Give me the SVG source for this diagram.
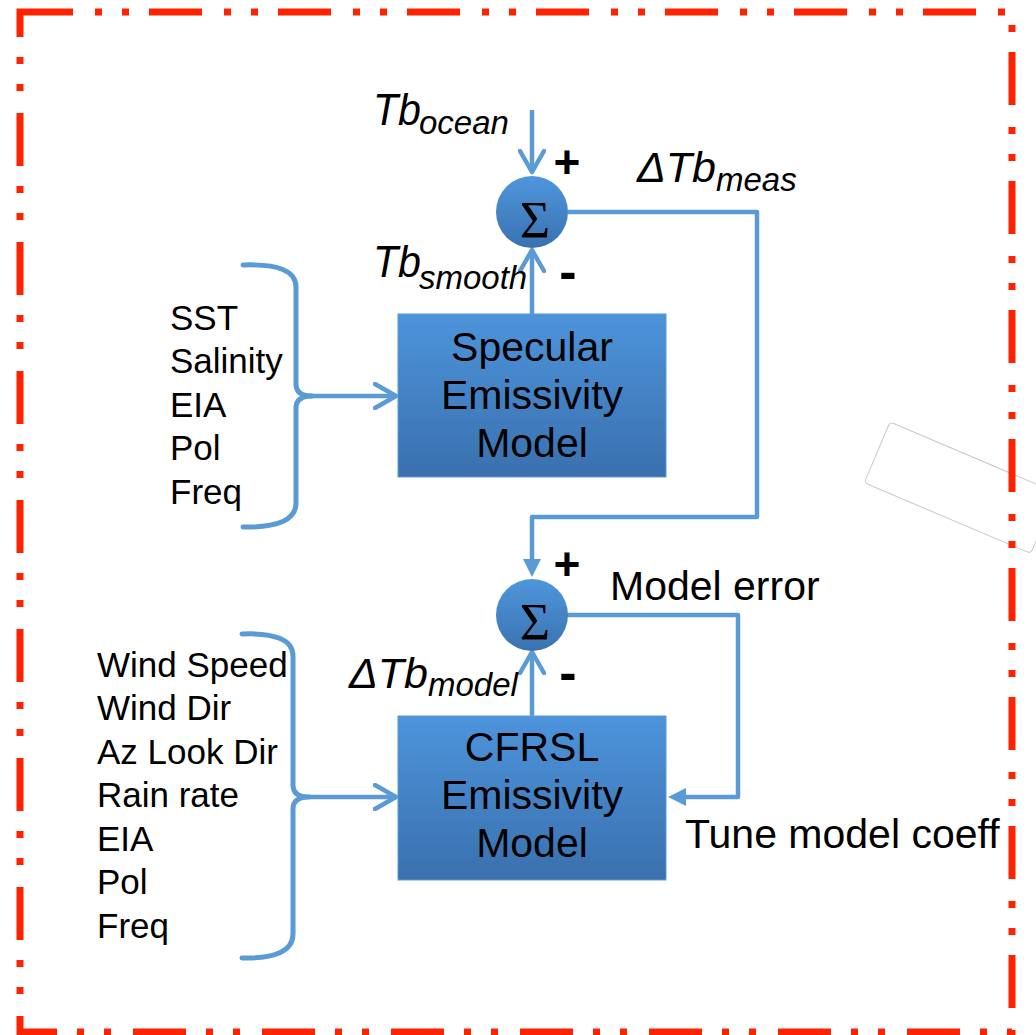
<svg xmlns="http://www.w3.org/2000/svg" width="1036" height="1035" viewBox="0 0 1036 1035">
<style>
.t{font-family:"Liberation Sans",Arial,sans-serif;fill:#000}
.box{font-size:41px;text-anchor:middle}
.lst{font-size:35px}
.lab{font-size:41px}
.it{font-style:italic}
.big{font-size:45px}
.mid{font-size:43px}
.sub{font-size:33px}
.sig{font-family:"Liberation Serif","Times New Roman",serif;font-size:52px;text-anchor:middle;fill:#000}
.sign{font-family:"Liberation Sans",Arial,sans-serif;font-weight:bold;text-anchor:middle;fill:#000}
.con{fill:none;stroke:#5b9bd5;stroke-width:4.5;stroke-linejoin:round}
.brace{fill:none;stroke:#5b9bd5;stroke-width:5;stroke-linecap:round;stroke-linejoin:round}
</style>
<defs>
<linearGradient id="gBox" x1="0" y1="0" x2="0" y2="1">
<stop offset="0" stop-color="#4d94db"/>
<stop offset="1" stop-color="#3a70ae"/>
</linearGradient>
<linearGradient id="gSum" x1="0" y1="0" x2="0" y2="1">
<stop offset="0" stop-color="#4f96dc"/>
<stop offset="1" stop-color="#3a72b0"/>
</linearGradient>
<marker id="vhead" viewBox="0 0 26 28" refX="23" refY="14" markerWidth="26" markerHeight="28" markerUnits="userSpaceOnUse" orient="auto">
<path d="M2,2 L23,14 L2,26" fill="none" stroke="#5b9bd5" stroke-width="4.5" stroke-linecap="round" stroke-linejoin="round"/>
</marker>
<marker id="tri" viewBox="0 0 18 20" refX="1" refY="10" markerWidth="18" markerHeight="20" markerUnits="userSpaceOnUse" orient="auto">
<path d="M0,1 L18,10 L0,19 Z" fill="#5b9bd5"/>
</marker>
</defs>

<rect x="0" y="0" width="1036" height="1035" fill="#ffffff"/>

<g id="overlay-rect">
<rect transform="translate(890,422) rotate(23)" x="0" y="0" width="181" height="66" rx="4" fill="#ffffff" stroke="#c8c8c8" stroke-width="1"/>
</g>

<g id="frame">
<path d="M20,12 H1012 V1032 H20 Z" fill="none" stroke="#ff2200" stroke-width="7" stroke-dasharray="53 22 7 20 7 20"/>
</g>

<g id="connectors">
<path class="con" d="M532,110 V172" marker-end="url(#vhead)"/>
<path class="con" d="M532,314 V250" marker-end="url(#vhead)"/>
<path class="con" d="M568,212 H757 V517 H532 V560" marker-end="url(#tri)"/>
<path class="con" d="M532,716 V652" marker-end="url(#vhead)"/>
<path class="con" d="M567,615 H738 V797 H685" marker-end="url(#tri)"/>
<path class="con" d="M310,396 H396" marker-end="url(#vhead)"/>
<path class="con" d="M309,797 H396" marker-end="url(#vhead)"/>
</g>

<g id="sum1">
<circle cx="532" cy="212" r="36" fill="url(#gSum)"/>
<text class="sig" x="535" y="238">Σ</text>
</g>

<g id="sum2">
<circle cx="532" cy="615" r="36" fill="url(#gSum)"/>
<text class="sig" x="535" y="640">Σ</text>
</g>

<g id="box1">
<rect x="398" y="314" width="268" height="163" fill="url(#gBox)" stroke="#5a9ad9" stroke-width="1"/>
<text class="t box" x="532" y="361">Specular</text>
<text class="t box" x="532" y="409">Emissivity</text>
<text class="t box" x="532" y="457">Model</text>
</g>

<g id="box2">
<rect x="398" y="716" width="268" height="164" fill="url(#gBox)" stroke="#5a9ad9" stroke-width="1"/>
<text class="t box" x="532" y="761">CFRSL</text>
<text class="t box" x="532" y="809">Emissivity</text>
<text class="t box" x="532" y="857">Model</text>
</g>

<g id="inputs1">
<path class="brace" d="M243,265 Q296,263 296,287 V384 Q296,396 312,396 Q296,396 296,408 V503 Q296,528 243,527"/>
<text class="t lst" x="170" y="330">SST</text>
<text class="t lst" x="170" y="373">Salinity</text>
<text class="t lst" x="170" y="417">EIA</text>
<text class="t lst" x="170" y="460">Pol</text>
<text class="t lst" x="170" y="504">Freq</text>
</g>

<g id="inputs2">
<path class="brace" d="M242,634 Q293,632 293,656 V785 Q293,797 309,797 Q293,797 293,809 V934 Q293,959 242,958"/>
<text class="t lst" x="97" y="677">Wind Speed</text>
<text class="t lst" x="97" y="720">Wind Dir</text>
<text class="t lst" x="97" y="764">Az Look Dir</text>
<text class="t lst" x="97" y="807">Rain rate</text>
<text class="t lst" x="97" y="851">EIA</text>
<text class="t lst" x="97" y="894">Pol</text>
<text class="t lst" x="97" y="938">Freq</text>
</g>

<g id="labels">
<text class="t it big" x="373" y="125" textLength="48" lengthAdjust="spacingAndGlyphs">Tb</text>
<text class="t it sub" x="419" y="134">ocean</text>
<text class="t it big" x="373" y="277" textLength="48" lengthAdjust="spacingAndGlyphs">Tb</text>
<text class="t it sub" x="419" y="289">smooth</text>
<text class="t it mid" x="637" y="182">ΔTb</text>
<text class="t it sub" x="716" y="191">meas</text>
<text class="t it mid" x="349" y="688">ΔTb</text>
<text class="t it sub" x="428" y="696">model</text>
<text class="sign" x="567" y="178" font-size="46">+</text>
<text class="sign" x="568" y="289" font-size="52">-</text>
<text class="sign" x="567" y="580" font-size="46">+</text>
<text class="sign" x="568" y="690" font-size="52">-</text>
<text class="t lab" x="610" y="600">Model error</text>
<text class="t lab" x="685" y="848">Tune model coeff</text>
</g>
</svg>
